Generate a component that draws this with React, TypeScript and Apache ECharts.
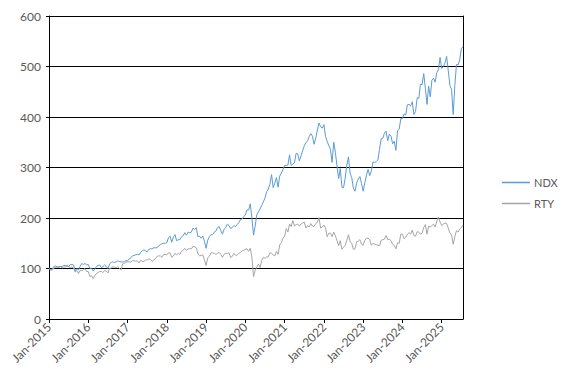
import React, { useEffect, useRef } from "react";
import * as echarts from "echarts";

// Semi-monthly samples starting Jan-2015 (1st and 15th of each month)
const START_YEAR = 2015;
const STEPS_PER_YEAR = 24;

const seriesNames = ["NDX", "RTY"];

const ndx = [
  100, 98, 99, 104, 105, 103, 102, 104, 104, 106, 106, 105, 104, 108, 108, 107, 95, 100, 97, 104, 110, 108, 110, 107,
  108, 100, 101, 95, 99, 104, 106, 107, 102, 104, 107, 104, 100, 109, 112, 113, 112, 113, 115, 114, 113, 113, 113, 116,
  115, 119, 121, 125, 126, 127, 128, 127, 132, 135, 137, 135, 133, 138, 139, 139, 141, 141, 141, 145, 147, 149, 150, 150,
  151, 161, 164, 152, 162, 167, 155, 157, 157, 163, 165, 171, 166, 172, 171, 172, 180, 177, 181, 163, 164, 160, 164, 154,
  140, 156, 163, 167, 167, 172, 174, 181, 183, 175, 168, 178, 181, 188, 185, 179, 181, 185, 183, 187, 191, 197, 198, 203,
  206, 216, 216, 228, 200, 166, 184, 207, 212, 218, 225, 232, 240, 252, 257, 267, 286, 260, 269, 280, 261, 283, 289, 296,
  304, 304, 305, 325, 304, 307, 309, 328, 327, 313, 323, 333, 343, 349, 353, 361, 367, 362, 346, 358, 374, 388, 381, 378,
  385, 361, 352, 343, 336, 310, 350, 330, 303, 278, 298, 261, 260, 279, 305, 321, 289, 280, 259, 253, 269, 277, 282, 268,
  253, 270, 285, 296, 284, 293, 311, 310, 312, 315, 336, 357, 358, 368, 372, 353, 366, 362, 347, 352, 334, 373, 376, 397,
  397, 406, 404, 424, 425, 422, 430, 405, 411, 438, 437, 465, 464, 486, 457, 425, 461, 440, 473, 477, 469, 488, 494, 518,
  496, 500, 507, 520, 492, 462, 455, 405, 462, 504, 503, 513, 535, 540,
];

const rty = [
  100, 97, 97, 101, 102, 103, 104, 104, 101, 103, 103, 106, 104, 102, 103, 101, 93, 96, 90, 96, 96, 97, 100, 94,
  94, 84, 86, 80, 86, 90, 92, 94, 94, 92, 96, 95, 91, 100, 101, 103, 103, 101, 104, 101, 97, 109, 110, 113,
  113, 113, 113, 116, 115, 115, 115, 111, 116, 114, 114, 117, 117, 119, 118, 114, 117, 119, 124, 125, 125, 122, 128, 128,
  127, 131, 131, 122, 125, 130, 127, 130, 128, 134, 136, 140, 136, 139, 139, 139, 144, 143, 141, 129, 125, 126, 127, 117,
  106, 121, 124, 131, 131, 130, 128, 130, 132, 128, 122, 128, 130, 130, 131, 122, 124, 130, 126, 127, 130, 132, 135, 136,
  138, 139, 134, 140, 122, 84, 96, 103, 109, 102, 116, 122, 120, 123, 123, 131, 130, 127, 125, 134, 128, 147, 151, 160,
  164, 179, 172, 188, 183, 195, 184, 187, 188, 184, 188, 190, 192, 180, 185, 182, 189, 184, 183, 189, 191, 201, 180, 182,
  186, 180, 163, 170, 170, 163, 172, 165, 155, 145, 155, 138, 142, 146, 156, 167, 153, 150, 138, 139, 153, 154, 157, 148,
  146, 156, 160, 160, 157, 146, 150, 148, 147, 146, 145, 156, 157, 158, 165, 157, 158, 155, 148, 146, 139, 151, 150, 168,
  168, 159, 162, 168, 171, 168, 176, 165, 164, 173, 172, 168, 170, 181, 187, 168, 184, 182, 185, 188, 182, 194, 202, 192,
  185, 188, 190, 189, 180, 170, 167, 148, 163, 175, 172, 178, 181, 186,
];

const yTicks = [0, 100, 200, 300, 400, 500, 600];

const FONT = 'Lato, "Open Sans", "Liberation Sans", sans-serif';
const TEXT_COLOR = "#595959";

export default function App() {
  const ref = useRef<HTMLDivElement>(null);

  useEffect(() => {
    if (!ref.current) return;
    const chart = echarts.init(ref.current, undefined, { renderer: "svg" });
    const toX = (i: number) => START_YEAR + i / STEPS_PER_YEAR;
    const xMax = toX(ndx.length - 1);

    chart.setOption({
      animation: false,
      textStyle: { fontFamily: FONT },
      grid: { left: 49, right: 104, top: 16, bottom: 64, containLabel: false },
      legend: {
        data: seriesNames,
        orient: "vertical",
        left: 497,
        top: 172,
        itemWidth: 28,
        itemHeight: 1.5,
        itemGap: 10,
        icon: "rect",
        textStyle: { color: TEXT_COLOR, fontSize: 11, fontFamily: FONT, padding: [0, 0, 0, -1] },
      },
      xAxis: {
        type: "value",
        min: START_YEAR,
        max: xMax,
        interval: 1,
        axisLine: { show: true, lineStyle: { color: "#000", width: 1 } },
        axisTick: { show: true, length: 4, lineStyle: { color: "#000" } },
        splitLine: { show: false },
        axisLabel: {
          rotate: 45,
          color: TEXT_COLOR,
          fontSize: 12,
          fontFamily: FONT,
          margin: 6,
          showMaxLabel: false,
          formatter: (v: number) => (Number.isInteger(v) ? "Jan-" + v : ""),
        },
      },
      yAxis: [
        {
          type: "value",
          min: yTicks[0],
          max: yTicks[yTicks.length - 1],
          interval: 100,
          axisLine: { show: true, lineStyle: { color: "#000", width: 1 } },
          axisTick: { show: true, length: 3, lineStyle: { color: "#000" } },
          splitLine: { show: true, lineStyle: { color: "#000", width: 1 } },
          axisLabel: { color: TEXT_COLOR, fontSize: 12, fontFamily: FONT, margin: 8 },
        },
        {
          type: "value",
          position: "right",
          min: yTicks[0],
          max: yTicks[yTicks.length - 1],
          interval: 100,
          axisLine: { show: true, lineStyle: { color: "#000", width: 1 } },
          axisTick: { show: false },
          axisLabel: { show: false },
          splitLine: { show: false },
        },
      ],
      series: [
        {
          name: seriesNames[0],
          type: "line",
          data: ndx.map((v, i) => [toX(i), v]),
          symbol: "none",
          lineStyle: { color: "#5B9BD5", width: 1 },
          itemStyle: { color: "#5B9BD5" },
          z: 3,
        },
        {
          name: seriesNames[1],
          type: "line",
          data: rty.map((v, i) => [toX(i), v]),
          symbol: "none",
          lineStyle: { color: "#A5A5A5", width: 1 },
          itemStyle: { color: "#A5A5A5" },
          z: 2,
        },
      ],
    });

    return () => chart.dispose();
  }, []);

  return <div ref={ref} style={{ width: 567, height: 383, position: "absolute", left: 0, top: 0 }} />;
}
